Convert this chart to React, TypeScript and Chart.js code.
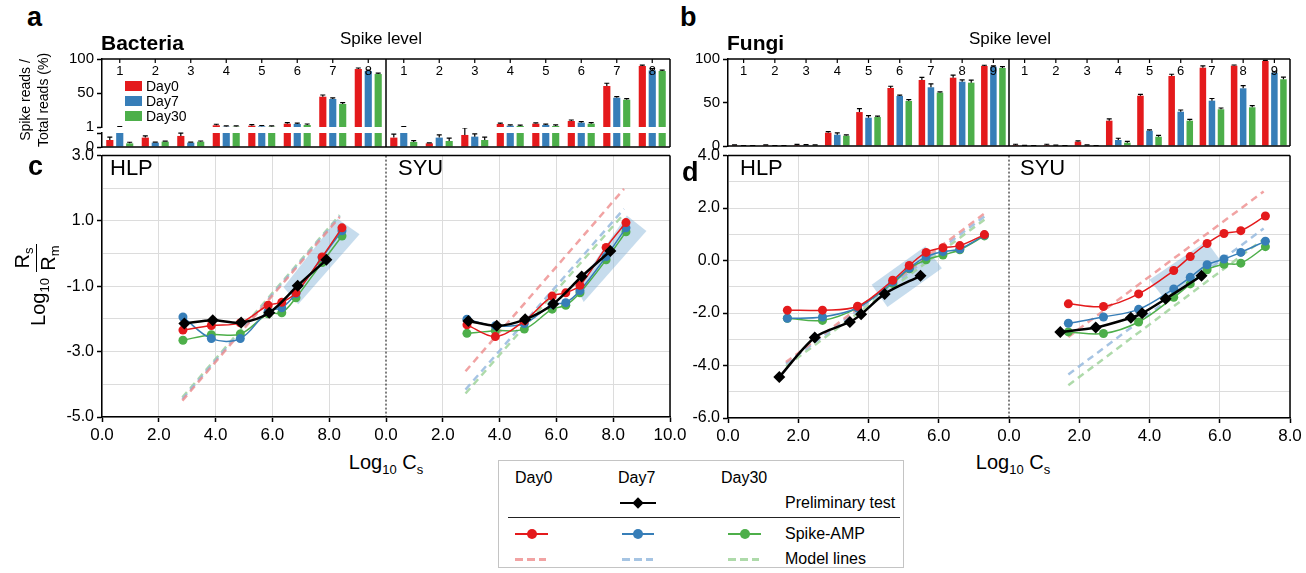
import React, { useEffect, useRef } from "react";
import { Chart, registerables } from "chart.js";

Chart.register(...registerables);

const FONT = '"Liberation Sans", Arial, Helvetica, sans-serif';
Chart.defaults.font.family = FONT;
Chart.defaults.color = "#000";

// ---------------- data ----------------
const bactLevels = ["1", "2", "3", "4", "5", "6", "7", "8"];
const fungiLevels = ["1", "2", "3", "4", "5", "6", "7", "8", "9"];

// Bacteria: spike reads / total reads (%)
const bactHlpDay0 = [0.5, 0.67, 0.79, 3.5, 2.9, 5.8, 45.1, 85.4];
const bactHlpDay7 = [1.05, 0.31, 0.31, 1.5, 2.0, 5.4, 41.8, 82.5];
const bactHlpDay30 = [0.26, 0.38, 0.38, 1.5, 1.5, 3.9, 34.5, 78.1];
const bactSyuDay0 = [0.67, 0.26, 0.86, 5.4, 5.8, 9.7, 60.7, 89.8];
const bactSyuDay7 = [1.1, 0.67, 0.74, 2.9, 3.9, 7.3, 43.6, 83.5];
const bactSyuDay30 = [0.36, 0.43, 0.5, 2.5, 2.5, 5.8, 40.7, 82.5];
const bactHlpErr0 = [0.2, 0.12, 0.2, 1.5, 1.5, 1.5, 2.5, 1.5];
const bactHlpErr7 = [0.4, 0.04, 0.04, 1.2, 1.2, 1.2, 1.5, 1.5];
const bactHlpErr30 = [0.08, 0.04, 0.05, 1.2, 1.2, 1.5, 2.0, 1.2];
const bactSyuErr0 = [0.25, 0.04, 0.5, 1.2, 1.2, 1.5, 4.0, 1.2];
const bactSyuErr7 = [0.5, 0.2, 0.2, 1.2, 1.2, 1.5, 1.5, 2.5];
const bactSyuErr30 = [0.1, 0.2, 0.2, 1.2, 1.5, 1.5, 1.5, 1.2];

// Fungi
const fungiHlpDay0 = [0.8, 0.8, 1.0, 15.3, 39.0, 66.7, 75.9, 78.5, 92.0];
const fungiHlpDay7 = [0.3, 0.3, 1.0, 13.0, 32.5, 57.5, 67.5, 73.9, 91.2];
const fungiHlpDay30 = [0.2, 0.3, 0.8, 11.8, 33.3, 51.7, 61.3, 72.8, 89.7];
const fungiSyuDay0 = [1.2, 1.2, 5.0, 29.1, 57.8, 80.5, 90.0, 92.3, 97.7];
const fungiSyuDay7 = [0.4, 0.6, 0.8, 6.9, 17.6, 39.4, 52.1, 66.3, 84.3];
const fungiSyuDay30 = [0.2, 0.2, 0.3, 3.8, 10.7, 29.1, 42.2, 44.5, 76.7];
const fungiHlpErr0 = [0.5, 0.5, 0.8, 1.2, 4, 2, 3, 3, 0.8];
const fungiHlpErr7 = [0.3, 0.3, 0.6, 2, 2.5, 1, 4, 2, 1];
const fungiHlpErr30 = [0.2, 0.2, 0.4, 1, 1, 1.5, 1, 3, 1.5];
const fungiSyuErr0 = [0.8, 0.8, 1, 2, 1.5, 2, 2, 0.8, 0.8];
const fungiSyuErr7 = [0.3, 0.3, 0.5, 2, 1, 2, 2.5, 3, 1];
const fungiSyuErr30 = [0.2, 0.2, 0.2, 1.5, 1.5, 1.5, 1.5, 2, 2.5];

// Panel c (bacteria): Log10 Cs vs Log10 Rs/Rm
const cX = [2.85, 3.85, 4.87, 5.85, 6.33, 6.83, 7.75, 8.45];
const cHlpDay0 = [-2.34, -2.2, -2.12, -1.58, -1.49, -1.2, -0.1, 0.79];
const cHlpDay7 = [-1.94, -2.6, -2.6, -1.76, -1.66, -1.22, -0.12, 0.7];
const cHlpDay30 = [-2.65, -2.48, -2.46, -1.84, -1.81, -1.35, -0.27, 0.54];
const cSyuDay0 = [-2.18, -2.54, -2.06, -1.3, -1.2, -0.97, 0.19, 0.95];
const cSyuDay7 = [-2.01, -2.21, -2.14, -1.56, -1.5, -1.13, -0.09, 0.79];
const cSyuDay30 = [-2.44, -2.36, -2.31, -1.7, -1.58, -1.2, -0.19, 0.67];
const cPrelimX = [2.9, 3.9, 4.9, 5.89, 6.89, 7.9];
const cHlpPrelim = [-2.14, -2.04, -2.11, -1.81, -0.98, -0.19];
const cSyuPrelim = [-2.06, -2.21, -2.01, -1.54, -0.7, 0.08];
const cHlpModelX = [2.83, 8.37];
const cHlpModel0 = [-4.5, 1.12];
const cHlpModel7 = [-4.45, 1.15];
const cHlpModel30 = [-4.4, 1.18];
const cSyuModelX = [2.8, 8.38];
const cSyuModel0 = [-3.6, 1.98];
const cSyuModel7 = [-4.16, 1.37];
const cSyuModel30 = [-4.28, 1.22];
const cHlpShadeX = [6.39, 8.29, 9.07, 6.91];
const cHlpShadeY = [-1.03, 1.07, 0.59, -1.55];
const cSyuShadeX = [6.7, 8.48, 9.17, 6.96];
const cSyuShadeY = [-1.05, 1.17, 0.69, -1.48];

// Panel d (fungi)
const dX = [1.69, 2.69, 3.69, 4.69, 5.16, 5.64, 6.12, 6.6, 7.3];
const dHlpDay0 = [-1.89, -1.89, -1.74, -0.75, -0.19, 0.31, 0.49, 0.57, 0.99];
const dHlpDay7 = [-2.2, -2.15, -1.8, -0.82, -0.29, 0.15, 0.34, 0.44, 0.97];
const dHlpDay30 = [-2.2, -2.28, -1.8, -0.87, -0.31, 0.03, 0.21, 0.41, 0.94];
const dSyuDay0 = [-1.65, -1.75, -1.27, -0.38, 0.15, 0.65, 1.03, 1.14, 1.7];
const dSyuDay7 = [-2.39, -2.15, -1.86, -1.08, -0.64, -0.16, 0.06, 0.31, 0.74];
const dSyuDay30 = [-2.72, -2.78, -2.34, -1.4, -0.89, -0.35, -0.14, -0.1, 0.53];
const dPrelimX = [1.46, 2.47, 3.47, 3.79, 4.46, 5.48];
const dHlpPrelim = [-4.44, -2.93, -2.34, -2.05, -1.27, -0.58];
const dSyuPrelim = [-2.72, -2.55, -2.18, -2.01, -1.46, -0.58];
const dHlpModelX = [1.65, 7.3];
const dHlpModel0 = [-3.87, 1.79];
const dHlpModel7 = [-3.93, 1.68];
const dHlpModel30 = [-4.03, 1.56];
const dSyuModelX = [1.69, 7.25];
const dSyuModel0 = [-2.91, 2.63];
const dSyuModel7 = [-4.34, 1.22];
const dSyuModel30 = [-4.75, 0.82];
const dHlpShadeX = [4.09, 5.62, 6.09, 4.54];
const dHlpShadeY = [-0.92, 0.55, -0.29, -1.77];
const dSyuShadeX = [4.0, 5.62, 6.02, 4.45];
const dSyuShadeY = [-0.73, 0.74, 0.0, -1.5];

// ---------------- styles ----------------
const RED = "#E41A1C";
const BLUE = "#377EB8";
const GREEN = "#4DAF4A";
const RED_M = "rgba(238,140,140,0.8)";
const BLUE_M = "rgba(150,186,222,0.85)";
const GREEN_M = "rgba(160,212,155,0.85)";
const SHADE = "rgba(120,172,212,0.42)";
const GRID = "#dcdcdc";

// ---------------- plugins ----------------
function framePlugin(o: any) {
  return {
    id: "frame",
    afterDraw(chart: any) {
      const { ctx, chartArea: a, scales } = chart;
      ctx.save();
      ctx.strokeStyle = "#000";
      ctx.lineWidth = 1.5;
      const t = a.top - (o.extTop || 0);
      const b = a.bottom + (o.extBottom || 0);
      ctx.beginPath();
      if (o.top) { ctx.moveTo(a.left, a.top); ctx.lineTo(a.right, a.top); }
      if (o.bottom) { ctx.moveTo(a.left, a.bottom); ctx.lineTo(a.right, a.bottom); }
      if (o.right) { ctx.moveTo(a.right, t); ctx.lineTo(a.right, b); }
      ctx.stroke();
      if (o.divider !== undefined) {
        const x = scales.x.getPixelForValue(o.divider);
        ctx.beginPath();
        if (o.dividerDash) { ctx.setLineDash(o.dividerDash); ctx.lineWidth = 1; }
        ctx.moveTo(x, o.dividerDash ? a.top : t);
        ctx.lineTo(x, o.dividerDash ? a.bottom : b);
        ctx.stroke();
      }
      ctx.restore();
    },
  };
}

function errorPlugin(errs: number[][]) {
  return {
    id: "errs",
    afterDatasetsDraw(chart: any) {
      const { ctx, chartArea: a } = chart;
      const ys = chart.scales.y;
      ctx.save();
      ctx.beginPath();
      ctx.rect(a.left, a.top - 5, a.right - a.left, a.bottom - a.top + 5);
      ctx.clip();
      ctx.strokeStyle = "#000";
      ctx.lineWidth = 1.2;
      chart.data.datasets.forEach((ds: any, i: number) => {
        const meta = chart.getDatasetMeta(i);
        meta.data.forEach((el: any, j: number) => {
          const v = ds.data[j];
          const e = errs[i][j];
          if (v < ys.min || v > ys.max) return;
          const y0 = ys.getPixelForValue(v);
          const y1 = ys.getPixelForValue(v + e);
          ctx.beginPath();
          ctx.moveTo(el.x, y0);
          ctx.lineTo(el.x, y1);
          ctx.moveTo(el.x - 2.5, y1);
          ctx.lineTo(el.x + 2.5, y1);
          ctx.stroke();
        });
      });
      ctx.restore();
    },
  };
}

function levelPlugin(levels: string[]) {
  return {
    id: "levels",
    afterDatasetsDraw(chart: any) {
      const { ctx, chartArea: a } = chart;
      const xs = chart.scales.x;
      ctx.save();
      ctx.fillStyle = "#000";
      ctx.strokeStyle = "#000";
      ctx.lineWidth = 1.2;
      ctx.font = `13px ${FONT}`;
      ctx.textAlign = "center";
      ctx.textBaseline = "middle";
      levels.forEach((l, i) => {
        const x = xs.getPixelForValue(i);
        ctx.beginPath();
        ctx.moveTo(x, a.top);
        ctx.lineTo(x, a.top + 4);
        ctx.stroke();
        ctx.fillText(l, x, a.top + 12);
      });
      ctx.restore();
    },
  };
}

// ---------------- config builders ----------------
function barConfig(o: any) {
  const ds = (label: string, data: number[], color: string) => ({
    label, data, backgroundColor: color, borderWidth: 0,
    categoryPercentage: o.cat, barPercentage: o.bar, clip: 0,
  });
  const plugins: any[] = [errorPlugin(o.errs), framePlugin(o.frame)];
  if (o.levels) plugins.push(levelPlugin(o.levels));
  return {
    type: "bar",
    data: {
      labels: o.labels,
      datasets: [ds("Day0", o.d0, RED), ds("Day7", o.d7, BLUE), ds("Day30", o.d30, GREEN)],
    },
    options: {
      responsive: false, animation: false, devicePixelRatio: 1, events: [],
      layout: { padding: o.pad },
      plugins: { legend: { display: false }, tooltip: { enabled: false } },
      scales: {
        x: { display: false },
        y: {
          min: o.min, max: o.max,
          afterBuildTicks: (s: any) => { s.ticks = o.tickVals.map((v: number) => ({ value: v })); },
          afterFit: (s: any) => { s.width = o.yWidth; },
          ticks: {
            autoSkip: false, padding: 3, color: "#000", font: { size: 15 },
            callback: (v: number) => { const k = o.tickVals.indexOf(v); return k >= 0 ? o.tickText[k] : ""; },
          },
          grid: { drawOnChartArea: false, drawTicks: true, tickLength: 5, tickColor: "#000", tickWidth: 1.5 },
          border: { color: "#000", width: 1.5 },
        },
      },
    },
    plugins,
  };
}

const pts = (xs: number[], ys: number[], dx: number) => xs.map((x, i) => ({ x: x + dx, y: ys[i] }));
const series = (xs: number[], ys: number[], dx: number, color: string) => ({
  data: pts(xs, ys, dx), showLine: true, borderColor: color, backgroundColor: color,
  pointBackgroundColor: color, pointBorderColor: color, borderWidth: 1.5,
  pointRadius: 4.5, pointHoverRadius: 4.5, pointBorderWidth: 0, tension: 0.35, fill: false,
});
const prelim = (xs: number[], ys: number[], dx: number) => ({
  data: pts(xs, ys, dx), showLine: true, borderColor: "#000", backgroundColor: "#000",
  pointBackgroundColor: "#000", pointBorderColor: "#000", borderWidth: 2.5,
  pointStyle: "rectRot", pointRadius: 6, pointHoverRadius: 6, pointBorderWidth: 0, tension: 0.3, fill: false,
});
const model = (xs: number[], ys: number[], dx: number, color: string) => ({
  data: pts(xs, ys, dx), showLine: true, borderColor: color, borderWidth: 2.5,
  borderDash: [7, 5], pointRadius: 0, pointHoverRadius: 0, fill: false,
});
const shade = (xs: number[], ys: number[], dx: number) => {
  const d = pts(xs, ys, dx);
  d.push({ ...d[0] });
  return {
    data: d, showLine: true, borderWidth: 0, borderColor: "rgba(0,0,0,0)",
    backgroundColor: SHADE, fill: "shape", pointRadius: 0, pointHoverRadius: 0, tension: 0,
  };
};

function lineConfig(o: any) {
  const xt: any[] = [];
  for (let v = 0; v <= o.xMax; v += 2) xt.push(v);
  return {
    type: "scatter",
    data: { datasets: o.datasets },
    options: {
      responsive: false, animation: false, devicePixelRatio: 1, events: [],
      layout: { padding: o.pad },
      plugins: { legend: { display: false }, tooltip: { enabled: false } },
      scales: {
        x: {
          type: "linear", min: 0, max: o.xMax,
          afterBuildTicks: (s: any) => { s.ticks = xt.map((v) => ({ value: v })); },
          afterFit: (s: any) => { s.height = 30; },
          ticks: {
            autoSkip: false, maxRotation: 0, padding: 3, font: { size: 17 }, color: "#000",
            callback: (v: number) => (v < o.half ? v : v - o.half).toFixed(1),
          },
          grid: {
            color: (c: any) => (c.tick && c.tick.value === o.half ? "rgba(0,0,0,0)" : GRID),
            tickColor: "#000", tickLength: 5, tickWidth: 1.5, lineWidth: 1,
          },
          border: { color: "#000", width: 1.5 },
        },
        y: {
          min: o.yMin, max: o.yMax,
          afterFit: (s: any) => { s.width = o.yWidth; },
          ticks: {
            stepSize: 1, autoSkip: false, padding: 3, font: { size: 16 }, color: "#000",
            callback: (v: number) => (o.labeled(v) ? Number(v).toFixed(1) : ""),
          },
          grid: {
            color: GRID, lineWidth: 1, tickLength: 5, tickWidth: 1.5,
            tickColor: (c: any) => (c.tick && o.labeled(c.tick.value) ? "#000" : "rgba(0,0,0,0)"),
          },
          border: { color: "#000", width: 1.5 },
        },
      },
    },
    plugins: [framePlugin({ top: true, right: true, divider: o.half, dividerDash: [2, 2] })],
  };
}

// ---------------- chart builders ----------------
const bactLabels = [...bactLevels.map((l) => "HLP " + l), ...bactLevels.map((l) => "SYU " + l)];
const fungiLabels = [...fungiLevels.map((l) => "HLP " + l), ...fungiLevels.map((l) => "SYU " + l)];
const bactErrs = [
  [...bactHlpErr0, ...bactSyuErr0],
  [...bactHlpErr7, ...bactSyuErr7],
  [...bactHlpErr30, ...bactSyuErr30],
];
const fungiErrs = [
  [...fungiHlpErr0, ...fungiSyuErr0],
  [...fungiHlpErr7, ...fungiSyuErr7],
  [...fungiHlpErr30, ...fungiSyuErr30],
];

const buildAUpper = () => barConfig({
  labels: bactLabels, levels: [...bactLevels, ...bactLevels],
  d0: [...bactHlpDay0, ...bactSyuDay0], d7: [...bactHlpDay7, ...bactSyuDay7], d30: [...bactHlpDay30, ...bactSyuDay30],
  errs: bactErrs, min: 1, max: 100, tickVals: [1, 50, 100], tickText: ["1", "50", "100"],
  pad: { top: 12, bottom: 12, right: 10, left: 0 }, yWidth: 42, cat: 0.84, bar: 0.72,
  frame: { top: true, right: true, divider: 7.5, extBottom: 6 },
});
const buildALower = () => barConfig({
  labels: bactLabels,
  d0: [...bactHlpDay0, ...bactSyuDay0], d7: [...bactHlpDay7, ...bactSyuDay7], d30: [...bactHlpDay30, ...bactSyuDay30],
  errs: bactErrs, min: 0, max: 1, tickVals: [0, 1], tickText: ["0", ""],
  pad: { top: 12, bottom: 12, right: 10, left: 0 }, yWidth: 42, cat: 0.84, bar: 0.72,
  frame: { bottom: true, right: true, divider: 7.5 },
});
const buildB = () => barConfig({
  labels: fungiLabels, levels: [...fungiLevels, ...fungiLevels],
  d0: [...fungiHlpDay0, ...fungiSyuDay0], d7: [...fungiHlpDay7, ...fungiSyuDay7], d30: [...fungiHlpDay30, ...fungiSyuDay30],
  errs: fungiErrs, min: 0, max: 100, tickVals: [0, 50, 100], tickText: ["0", "50", "100"],
  pad: { top: 12, bottom: 12, right: 16, left: 0 }, yWidth: 42, cat: 0.87, bar: 0.72,
  frame: { top: true, bottom: true, right: true, divider: 8.5 },
});

const buildC = () => lineConfig({
  xMax: 20, half: 10, yMin: -5, yMax: 3, yWidth: 62,
  pad: { top: 10, right: 25, bottom: 0, left: 0 },
  labeled: (v: number) => Math.abs(Math.round(v)) % 2 === 1,
  datasets: [
    prelim(cPrelimX, cHlpPrelim, 0), prelim(cPrelimX, cSyuPrelim, 10),
    series(cX, cHlpDay0, 0, RED), series(cX, cHlpDay7, 0, BLUE), series(cX, cHlpDay30, 0, GREEN),
    series(cX, cSyuDay0, 10, RED), series(cX, cSyuDay7, 10, BLUE), series(cX, cSyuDay30, 10, GREEN),
    model(cHlpModelX, cHlpModel0, 0, RED_M), model(cHlpModelX, cHlpModel7, 0, BLUE_M), model(cHlpModelX, cHlpModel30, 0, GREEN_M),
    model(cSyuModelX, cSyuModel0, 10, RED_M), model(cSyuModelX, cSyuModel7, 10, BLUE_M), model(cSyuModelX, cSyuModel30, 10, GREEN_M),
    shade(cHlpShadeX, cHlpShadeY, 0), shade(cSyuShadeX, cSyuShadeY, 10),
  ],
});
const buildD = () => lineConfig({
  xMax: 16, half: 8, yMin: -6, yMax: 4, yWidth: 48,
  pad: { top: 10, right: 16, bottom: 0, left: 0 },
  labeled: (v: number) => Math.abs(Math.round(v)) % 2 === 0,
  datasets: [
    prelim(dPrelimX, dHlpPrelim, 0), prelim(dPrelimX, dSyuPrelim, 8),
    series(dX, dHlpDay0, 0, RED), series(dX, dHlpDay7, 0, BLUE), series(dX, dHlpDay30, 0, GREEN),
    series(dX, dSyuDay0, 8, RED), series(dX, dSyuDay7, 8, BLUE), series(dX, dSyuDay30, 8, GREEN),
    model(dHlpModelX, dHlpModel0, 0, RED_M), model(dHlpModelX, dHlpModel7, 0, BLUE_M), model(dHlpModelX, dHlpModel30, 0, GREEN_M),
    model(dSyuModelX, dSyuModel0, 8, RED_M), model(dSyuModelX, dSyuModel7, 8, BLUE_M), model(dSyuModelX, dSyuModel30, 8, GREEN_M),
    shade(dHlpShadeX, dHlpShadeY, 0), shade(dSyuShadeX, dSyuShadeY, 8),
  ],
});

// ---------------- components ----------------
function ChartBox({ x, y, w, h, build }: any) {
  const ref = useRef<HTMLCanvasElement | null>(null);
  useEffect(() => {
    if (!ref.current) return;
    const chart = new Chart(ref.current, build());
    return () => chart.destroy();
  }, []);
  return (
    <canvas ref={ref} width={w} height={h}
      style={{ position: "absolute", left: x, top: y, width: w, height: h, display: "block" }} />
  );
}

function T({ x, y, size, bold, anchor, children }: any) {
  const style: any = {
    position: "absolute", left: x, top: y - 0.8465 * size, fontSize: size,
    lineHeight: `${size}px`, fontWeight: bold ? 700 : 400, fontFamily: FONT,
    whiteSpace: "nowrap", color: "#000",
  };
  if (anchor === "middle") style.transform = "translateX(-50%)";
  return <div style={style}>{children}</div>;
}

const Sub = ({ children }: any) => (
  <span style={{ fontSize: "0.65em", position: "relative", top: "0.35em" }}>{children}</span>
);

function Rect({ x, y, w, h, bg, extra }: any) {
  return <div style={{ position: "absolute", left: x, top: y, width: w, height: h, background: bg, ...(extra || {}) }} />;
}

function YLabelC() {
  const cx = 36, cy = 285, W = 110, H = 60;
  return (
    <div style={{
      position: "absolute", left: cx - W / 2, top: cy - H / 2, width: W, height: H,
      display: "flex", alignItems: "center", justifyContent: "center",
      transform: "rotate(-90deg)", fontFamily: FONT, fontSize: 20, color: "#000", whiteSpace: "nowrap",
    }}>
      <span style={{ lineHeight: "20px", position: "relative", top: 3 }}>Log<Sub>10</Sub></span>
      <span style={{ display: "inline-flex", flexDirection: "column", alignItems: "center", marginLeft: 6 }}>
        <span style={{ lineHeight: "21px" }}>R<Sub>s</Sub></span>
        <span style={{ borderTop: "1.5px solid #000", width: 28, margin: "1px 0" }} />
        <span style={{ lineHeight: "21px" }}>R<Sub>m</Sub></span>
      </span>
    </div>
  );
}

function Legend() {
  return (
    <>
      <div style={{ position: "absolute", left: 498, top: 460, width: 406, height: 108, border: "1.5px solid #c4c4c4", boxSizing: "border-box", background: "#fff" }} />
      <T x={515} y={484} size={16}>Day0</T>
      <T x={618} y={484} size={16}>Day7</T>
      <T x={721} y={484} size={16}>Day30</T>
      <Rect x={620} y={501.75} w={36} h={2.5} bg="#000" />
      <Rect x={634} y={499} w={8} h={8} bg="#000" extra={{ transform: "rotate(45deg)" }} />
      <T x={785} y={509} size={16}>Preliminary test</T>
      <Rect x={508} y={516.5} w={392} h={1.5} bg="#222" />
      <Rect x={515} y={533.25} w={33} h={1.5} bg={RED} />
      <Rect x={526.5} y={529} w={10} h={10} bg={RED} extra={{ borderRadius: "50%" }} />
      <Rect x={622} y={533.25} w={32} h={1.5} bg={BLUE} />
      <Rect x={633} y={529} w={10} h={10} bg={BLUE} extra={{ borderRadius: "50%" }} />
      <Rect x={728} y={533.25} w={33} h={1.5} bg={GREEN} />
      <Rect x={739.5} y={529} w={10} h={10} bg={GREEN} extra={{ borderRadius: "50%" }} />
      <T x={785} y={540} size={16}>Spike-AMP</T>
      {[{ x: 515, c: RED_M }, { x: 622, c: BLUE_M }, { x: 728, c: GREEN_M }].map((d, i) => (
        <Rect key={i} x={d.x} y={557.5} w={31} h={3}
          bg={`repeating-linear-gradient(to right, ${d.c} 0px, ${d.c} 8px, transparent 8px, transparent 12px)`} />
      ))}
      <T x={785} y={565} size={16}>Model lines</T>
    </>
  );
}

export default function App() {
  return (
    <div style={{ position: "absolute", left: 0, top: 0, width: 1306, height: 573, background: "#fff", overflow: "hidden" }}>
      <ChartBox x={60} y={47} w={620} h={92} build={buildAUpper} />
      <ChartBox x={60} y={121} w={620} h={38} build={buildALower} />
      <ChartBox x={686} y={47} w={620} h={111} build={buildB} />
      <ChartBox x={40} y={143} w={655} h={304} build={buildC} />
      <ChartBox x={680} y={143} w={626} h={305} build={buildD} />

      <T x={27} y={27} size={27} bold>a</T>
      <T x={680} y={27} size={27} bold>b</T>
      <T x={28} y={176} size={27} bold>c</T>
      <T x={682} y={182} size={27} bold>d</T>

      <T x={101} y={50} size={21} bold>Bacteria</T>
      <T x={727} y={50} size={21} bold>Fungi</T>
      <T x={381} y={44} size={17} anchor="middle">Spike level</T>
      <T x={1010} y={44} size={17} anchor="middle">Spike level</T>

      <div style={{
        position: "absolute", left: 36 - 60, top: 100 - 20, width: 120, height: 40,
        transform: "rotate(-90deg)", fontFamily: FONT, fontSize: 14, lineHeight: "18px",
        textAlign: "center", color: "#000", whiteSpace: "nowrap",
      }}>
        <div>Spike reads /</div>
        <div>Total reads (%)</div>
      </div>

      {/* in-plot legend of panel a */}
      <Rect x={125} y={81} w={17} h={10} bg={RED} />
      <Rect x={125} y={95.5} w={17} h={10} bg={BLUE} />
      <Rect x={125} y={110.5} w={17} h={10} bg={GREEN} />
      <T x={146} y={91} size={14}>Day0</T>
      <T x={146} y={105.7} size={14}>Day7</T>
      <T x={146} y={120.7} size={14}>Day30</T>

      <T x={110} y={176} size={22}>HLP</T>
      <T x={398} y={176} size={22}>SYU</T>
      <T x={740} y={176} size={22}>HLP</T>
      <T x={1020} y={176} size={22}>SYU</T>

      <YLabelC />
      <T x={386} y={469} size={20} anchor="middle">Log<Sub>10</Sub> C<Sub>s</Sub></T>
      <T x={1013} y={469} size={20} anchor="middle">Log<Sub>10</Sub> C<Sub>s</Sub></T>

      <Legend />
    </div>
  );
}
